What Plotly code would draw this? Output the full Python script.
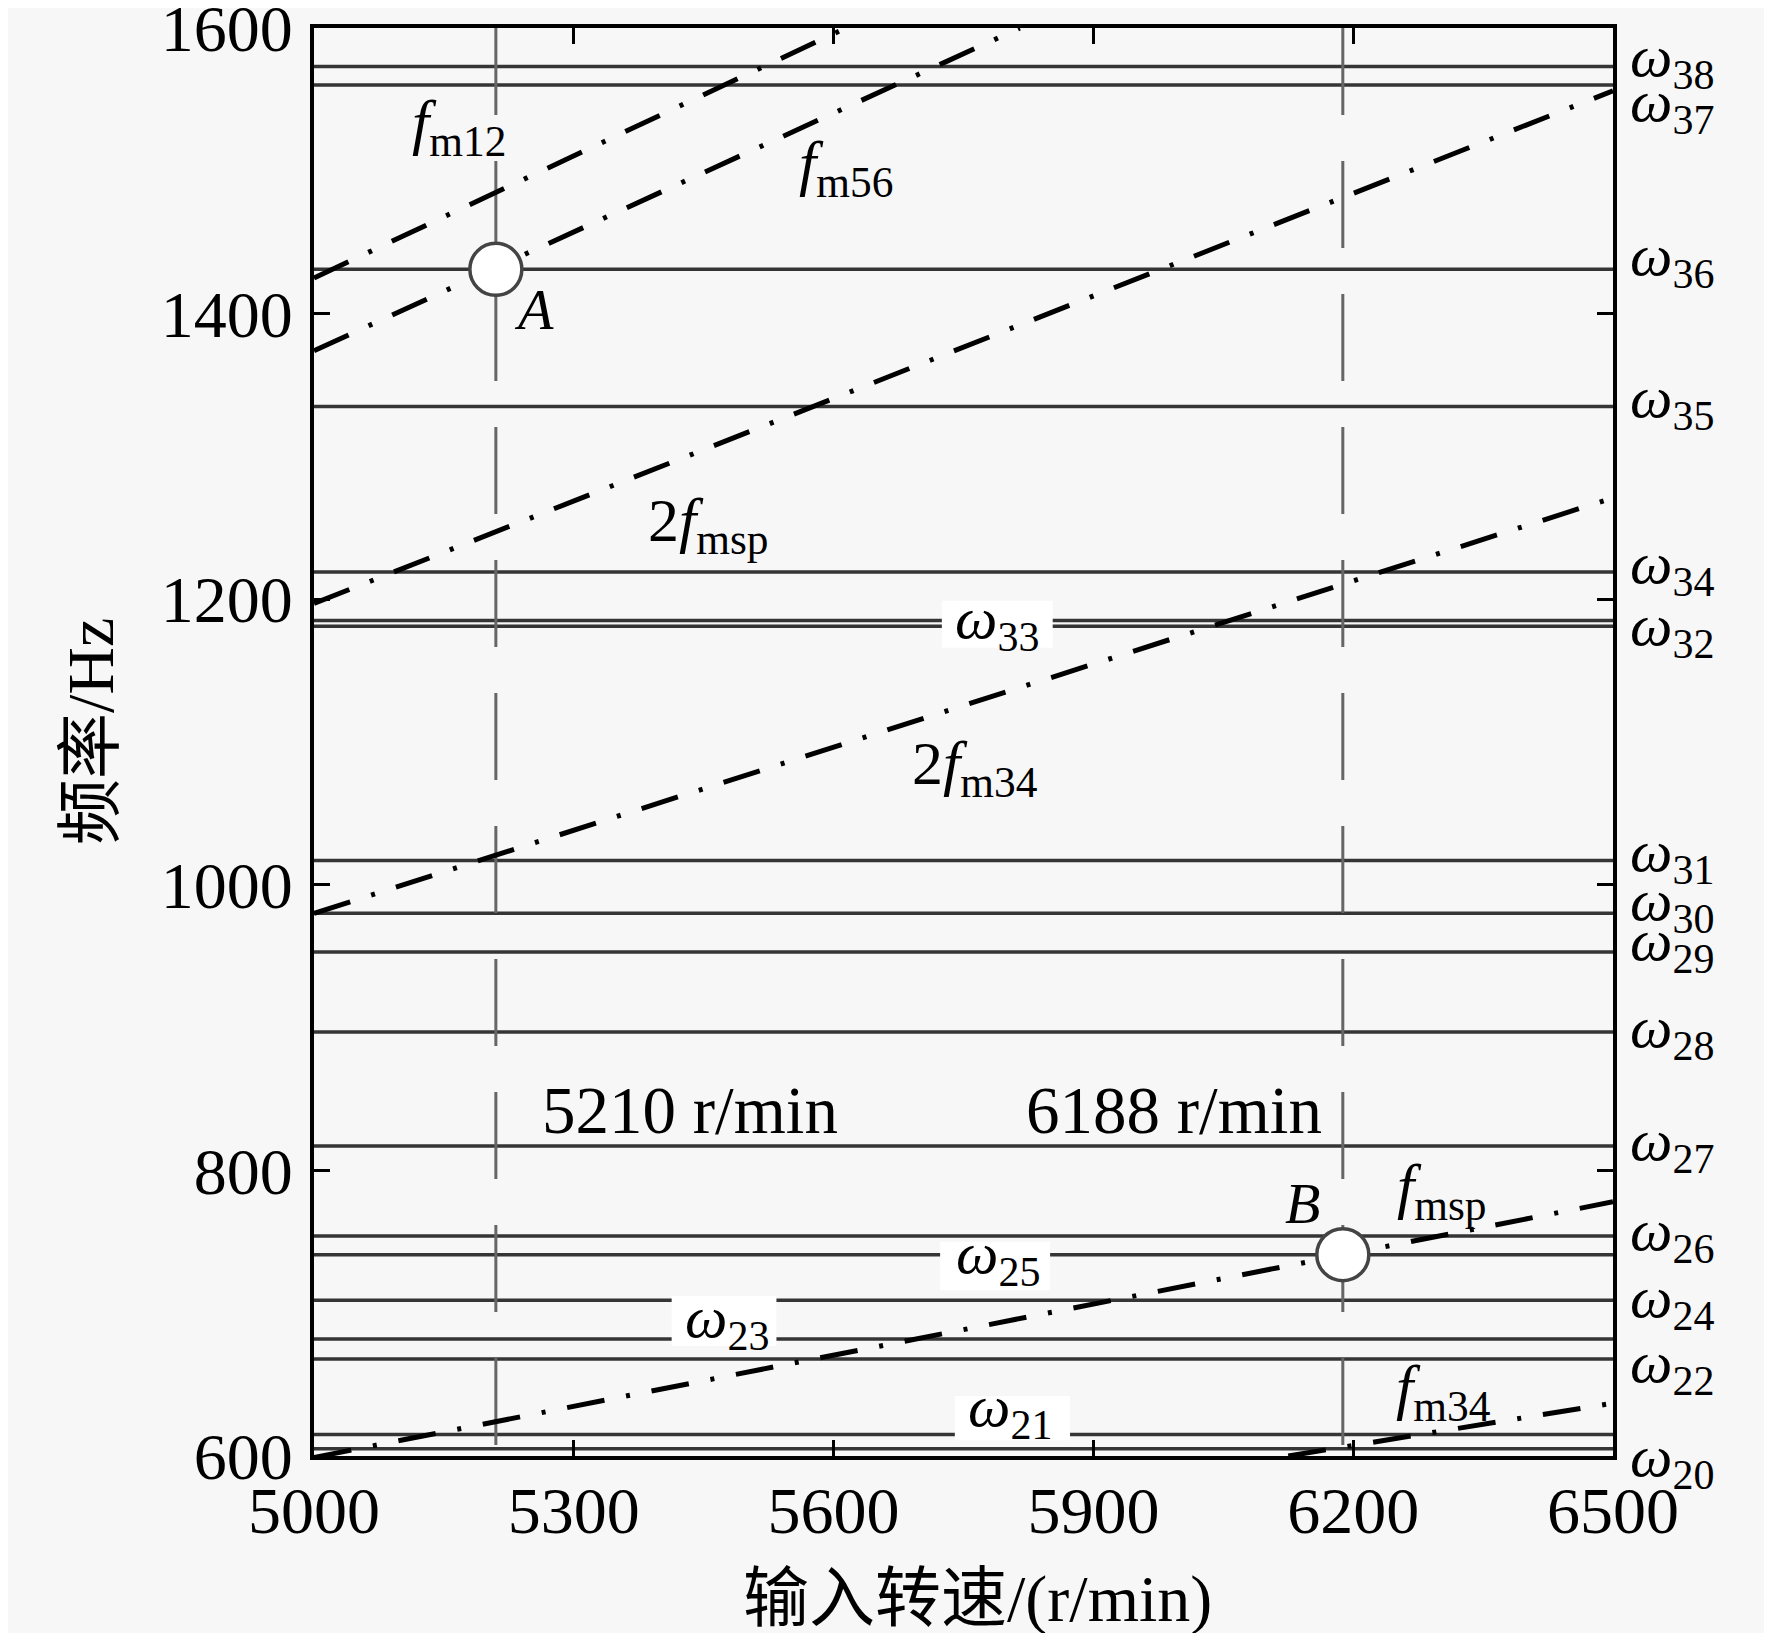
import plotly.graph_objects as go

# 坐标轴范围与刻度
speed_range = [5000, 6500]
freq_range = [600, 1600]
speed_ticks = [5000, 5300, 5600, 5900, 6200, 6500]
freq_ticks = [600, 800, 1000, 1200, 1400, 1600]

# 固有频率 ω20 … ω38 (Hz)
omega_ids = [20, 21, 22, 23, 24, 25, 26, 27, 28, 29, 30, 31, 32, 33, 34, 35, 36, 37, 38]
omega_hz = [605, 615, 668, 682, 709, 741, 754, 817, 897, 953, 980, 1017,
            1181, 1185, 1219, 1335, 1431, 1560, 1573]

# 啮合频率线 (转速 r/min, 频率 Hz)
fm12_speed = [5000, 5614]
fm12_hz = [1425, 1600]
fm56_speed = [5000, 5815]
fm56_hz = [1374, 1600]
fmsp2_speed = [5000, 6500]
fmsp2_hz = [1197, 1556]
fm34x2_speed = [5000, 6500]
fm34x2_hz = [980, 1271]
fmsp_speed = [5000, 6500]
fmsp_hz = [599, 778]
fm34_speed = [6125, 6500]
fm34_hz = [600, 637]

# 共振转速与共振点
critical_speed = [5210, 6188]
critical_text = ["5210 r/min", "6188 r/min"]
point_names = ["A", "B"]
point_speed = [5210, 6188]
point_hz = [1431, 741]

SERIF = "Liberation Serif, Times New Roman, Noto Sans CJK SC, serif"
BG = "#f7f7f7"
LINE_GREY = "#353535"
DASH_GREY = "#666666"

fig = go.Figure()

for hz in omega_hz:
    fig.add_trace(go.Scatter(x=speed_range, y=[hz, hz], mode="lines",
                             line=dict(color=LINE_GREY, width=3.5),
                             hoverinfo="skip", showlegend=False))

for n in critical_speed:
    fig.add_trace(go.Scatter(x=[n, n], y=[freq_range[1], freq_range[0]], mode="lines",
                             line=dict(color=DASH_GREY, width=3, dash="87px,46px"),
                             hoverinfo="skip", showlegend=False))

mesh_lines = [
    (fm12_speed, fm12_hz),
    (fm56_speed, fm56_hz),
    (fmsp2_speed, fmsp2_hz),
    (fm34x2_speed, fm34x2_hz),
    (fmsp_speed, fmsp_hz),
    (fm34_speed, fm34_hz),
]
for xs, ys in mesh_lines:
    fig.add_trace(go.Scatter(x=xs, y=ys, mode="lines",
                             line=dict(color="black", width=5, dash="38px,22px,4px,22px"),
                             hoverinfo="skip", showlegend=False))

fig.add_trace(go.Scatter(x=point_speed, y=point_hz, mode="markers",
                         marker=dict(size=52, color="white",
                                     line=dict(color="#444444", width=3.5)),
                         hoverinfo="skip", showlegend=False))

# 图内标注的 ω 处遮住横线的白色底块
inline_omega = {33: (5789, 1184), 25: (5790, 739), 23: (5477, 694), 21: (5804, 632)}
gap_boxes = [
    (5725, 5853, 1166, 1199),
    (5723, 5850, 716, 750),
    (5413, 5534, 677, 712),
    (5740, 5873, 611, 642),
]
shapes = [dict(type="rect", xref="x", yref="y", x0=a, x1=b, y0=c, y1=d,
               fillcolor="white", line=dict(width=0), layer="above")
          for a, b, c, d in gap_boxes]

# 右侧 ω 标注的竖直偏移 (px, 向下为正)
right_shift = {20: 12, 22: 8, 24: 1, 26: -2, 27: -2, 28: 0, 29: -7, 30: -9, 31: -5,
               32: 3, 34: -5, 35: -5, 36: -10, 37: 20, 38: -6}

annotations = []
for oid, hz in zip(omega_ids, omega_hz):
    text = f"<i>ω</i><sub>{oid}</sub>"
    if oid in inline_omega:
        x, y = inline_omega[oid]
        annotations.append(dict(x=x, y=y, xref="x", yref="y", text=text, showarrow=False,
                                font=dict(family=SERIF, size=60, color="black"),
                                xanchor="center", yanchor="middle"))
    else:
        annotations.append(dict(x=1, y=hz, xref="paper", yref="y", text=text, showarrow=False,
                                font=dict(family=SERIF, size=60, color="black"),
                                xanchor="left", yanchor="middle", xshift=15,
                                yshift=-right_shift[oid]))

mesh_labels = [
    ("<i>f</i><sub>m12</sub>", 5167, 1531),
    ("<i>f</i><sub>m56</sub>", 5614, 1502),
    ("2<i>f</i><sub>msp</sub>", 5455, 1252),
    ("2<i>f</i><sub>m34</sub>", 5763, 1082),
    ("<i>f</i><sub>msp</sub>", 6302, 786),
    ("<i>f</i><sub>m34</sub>", 6304, 645),
]
for text, x, y in mesh_labels:
    annotations.append(dict(x=x, y=y, xref="x", yref="y", text=text, showarrow=False,
                            font=dict(family=SERIF, size=62, color="black"),
                            xanchor="center", yanchor="middle"))

for name, x, y in [(point_names[0], 5254, 1403), (point_names[1], 6141, 777)]:
    annotations.append(dict(x=x, y=y, xref="x", yref="y", text=f"<i>{name}</i>",
                            showarrow=False, font=dict(family=SERIF, size=58, color="black"),
                            xanchor="center", yanchor="middle"))

for text, x in zip(critical_text, [5434, 5993]):
    annotations.append(dict(x=x, y=842, xref="x", yref="y", text=text, showarrow=False,
                            font=dict(family=SERIF, size=67, color="black"),
                            xanchor="center", yanchor="middle"))

annotations.append(dict(x=0.5104, y=-0.1001, xref="paper", yref="paper",
                        text="输入转速/(r/min)", showarrow=False,
                        font=dict(family=SERIF, size=66, color="black"),
                        xanchor="center", yanchor="middle"))
annotations.append(dict(x=-0.1724, y=0.507, xref="paper", yref="paper",
                        text="频率/Hz", showarrow=False, textangle=-90,
                        font=dict(family=SERIF, size=66, color="black"),
                        xanchor="center", yanchor="middle"))

axis_common = dict(showline=True, linewidth=4, linecolor="black", mirror="ticks",
                   ticks="inside", ticklen=16, tickwidth=3, tickcolor="black",
                   showgrid=False, zeroline=False, ticklabeloverflow="allow",
                   automargin=False,
                   tickfont=dict(family=SERIF, size=66, color="black"))

# 页面 body 自带 8px 外边距, 画布尺寸与边距相应扣除
fig.update_layout(
    width=1756, height=1625,
    margin=dict(l=306, r=151, t=20, b=177),
    paper_bgcolor=BG, plot_bgcolor=BG,
    showlegend=False,
    shapes=shapes,
    annotations=annotations,
    xaxis=dict(range=speed_range, tickvals=speed_ticks, ticklabelstandoff=-6, **axis_common),
    yaxis=dict(range=freq_range, tickvals=freq_ticks, ticklabelstandoff=4, **axis_common),
)

fig.write_html("out.html")
